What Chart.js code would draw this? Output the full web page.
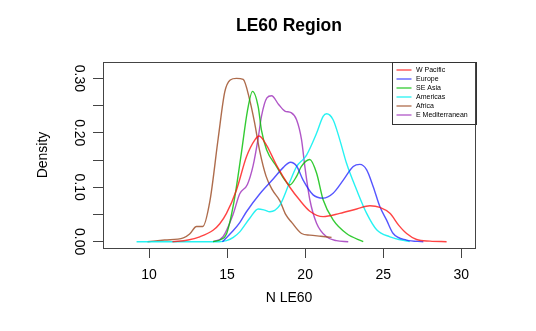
<!DOCTYPE html>
<html><head><meta charset="utf-8">
<script src="https://cdn.jsdelivr.net/npm/chart.js@4/dist/chart.umd.min.js"></script>
<style>html,body{margin:0;padding:0;background:#fff;}canvas{display:block;}</style>
</head><body>
<canvas id="c" width="536" height="331"></canvas>
<script>
// ---- data ----
const chartTitle = 'LE60 Region';
const xTitle = 'N LE60';
const yTitle = 'Density';
const seriesNames = ['W Pacific', 'Europe', 'SE Asia', 'Americas', 'Africa', 'E Mediterranean'];
const seriesColors = ['rgba(255,20,20,0.8)', 'rgba(20,20,255,0.72)', 'rgba(0,190,0,0.8)', 'rgba(0,240,240,0.85)', 'rgba(160,82,45,0.85)', 'rgba(150,30,180,0.75)'];

const wPacificX = [11.5, 12.5, 13.25, 14.1, 14.53, 14.96, 15.6, 16.24, 16.78, 17.05, 17.53, 18.17, 19.02, 19.66, 20.3, 21.15, 22.22, 23.3, 24.15, 24.79, 25.43, 26.0, 26.5, 27.14, 28.0, 29.06];
const wPacificY = [0.0, 0.003, 0.009, 0.021, 0.033, 0.052, 0.095, 0.156, 0.187, 0.194, 0.177, 0.14, 0.1, 0.076, 0.056, 0.046, 0.052, 0.06, 0.066, 0.063, 0.052, 0.03, 0.015, 0.004, 0.001, 0.0];

const europeX = [14.7, 15.38, 15.81, 16.24, 17.1, 17.95, 18.59, 19.06, 19.45, 19.87, 20.51, 21.15, 21.79, 22.44, 23.08, 23.5, 23.94, 24.36, 24.79, 25.21, 25.64, 26.5, 27.57];
const europeY = [0.0, 0.02, 0.035, 0.055, 0.088, 0.115, 0.136, 0.146, 0.139, 0.113, 0.086, 0.08, 0.089, 0.113, 0.138, 0.142, 0.132, 0.101, 0.064, 0.04, 0.015, 0.003, 0.0];

const seAsiaX = [14.1, 14.6, 14.96, 15.45, 15.9, 16.3, 16.63, 16.99, 17.2, 17.53, 18.17, 18.7, 19.0, 19.45, 19.75, 20.3, 20.73, 21.15, 21.79, 22.65, 23.72];
const seAsiaY = [0.0, 0.004, 0.014, 0.075, 0.16, 0.24, 0.276, 0.248, 0.205, 0.169, 0.138, 0.113, 0.104, 0.12, 0.138, 0.151, 0.126, 0.077, 0.04, 0.015, 0.0];

const americasX = [9.2, 14.5, 14.96, 15.4, 15.81, 16.45, 16.99, 17.4, 17.74, 18.38, 19.02, 19.45, 19.9, 20.09, 20.73, 21.15, 21.37, 21.79, 22.22, 22.65, 23.3, 23.94, 24.58, 25.43, 26.7];
const americasY = [0.0, 0.0, 0.002, 0.008, 0.018, 0.043, 0.06, 0.058, 0.055, 0.067, 0.11, 0.138, 0.152, 0.159, 0.199, 0.23, 0.235, 0.224, 0.187, 0.144, 0.095, 0.052, 0.022, 0.009, 0.0];

const africaX = [9.9, 11.0, 12.2, 12.6, 13.04, 13.44, 13.9, 14.43, 14.85, 15.2, 15.6, 16.03, 16.45, 16.75, 17.1, 17.5, 17.9, 18.38, 18.75, 19.15, 19.77, 20.3, 21.0, 21.69];
const africaY = [0.0, 0.003, 0.007, 0.014, 0.028, 0.028, 0.075, 0.19, 0.275, 0.297, 0.3, 0.298, 0.26, 0.22, 0.165, 0.12, 0.095, 0.075, 0.05, 0.035, 0.015, 0.012, 0.01, 0.008];

const eMedX = [14.1, 14.74, 15.38, 15.81, 16.3, 16.67, 16.99, 17.2, 17.55, 17.85, 18.3, 18.7, 19.1, 19.45, 19.77, 19.98, 20.3, 20.73, 21.37, 22.0, 22.76];
const eMedY = [0.0, 0.009, 0.05, 0.088, 0.105, 0.14, 0.19, 0.23, 0.264, 0.268, 0.252, 0.24, 0.237, 0.224, 0.187, 0.138, 0.077, 0.034, 0.009, 0.002, 0.0];

const xTickValues = [10, 15, 20, 25, 30];
const xTickLabels = ['10', '15', '20', '25', '30'];
const yTickValues = [0, 0.05, 0.10, 0.15, 0.20, 0.25, 0.30];
const yTickLabels = ['0.00', '', '0.10', '', '0.20', '', '0.30'];

// ---- build datasets ----
const seriesX = [wPacificX, europeX, seAsiaX, americasX, africaX, eMedX];
const seriesY = [wPacificY, europeY, seAsiaY, americasY, africaY, eMedY];
const datasets = seriesNames.map((name, i) => ({
  label: name,
  data: seriesX[i].map((x, j) => ({x: x, y: seriesY[i][j]})),
  borderColor: seriesColors[i],
  backgroundColor: seriesColors[i],
  borderWidth: 1.4,
  pointRadius: 0,
  fill: false,
  cubicInterpolationMode: 'monotone'
}));

const FONT = "'Liberation Sans', Arial, Helvetica, sans-serif";

const decor = {
  id: 'decor',
  afterDraw(chart) {
    const ctx = chart.ctx;
    const a = chart.chartArea;
    ctx.save();
    // plot frame
    ctx.strokeStyle = '#444';
    ctx.lineWidth = 1;
    ctx.strokeRect(Math.round(a.left) + 0.5, Math.round(a.top) + 0.5, Math.round(a.right - a.left), Math.round(a.bottom - a.top));
    // title
    ctx.fillStyle = '#000';
    ctx.textAlign = 'center';
    ctx.textBaseline = 'middle';
    ctx.font = "bold 17.5px " + FONT;
    const cx = (a.left + a.right) / 2;
    ctx.fillText(chartTitle, cx, 26);
    // x title
    ctx.font = "14px " + FONT;
    ctx.fillText(xTitle, cx, 298);
    // y title
    ctx.save();
    ctx.translate(43, (a.top + a.bottom) / 2);
    ctx.rotate(-Math.PI / 2);
    ctx.fillText(yTitle, 0, 0);
    ctx.restore();
    // legend
    const lw = 83.5, lh = 61.5;
    const lx = a.right - lw, ly = a.top;
    ctx.strokeStyle = '#333';
    ctx.lineWidth = 1;
    ctx.strokeRect(Math.round(lx) + 0.5, Math.round(ly) + 0.5, Math.round(lw), Math.round(lh));
    ctx.font = "7px " + FONT;
    ctx.textAlign = 'left';
    chart.data.datasets.forEach((ds, i) => {
      const y = ly + 8 + i * 9;
      ctx.strokeStyle = ds.borderColor;
      ctx.lineWidth = 1.3;
      ctx.beginPath();
      ctx.moveTo(lx + 5, y);
      ctx.lineTo(lx + 20, y);
      ctx.stroke();
      ctx.fillStyle = '#000';
      ctx.fillText(ds.label, lx + 24.5, y + 0.5);
    });
    ctx.restore();
  }
};

new Chart(document.getElementById('c'), {
  type: 'line',
  data: { datasets: datasets },
  options: {
    responsive: false,
    animation: false,
    devicePixelRatio: 1,
    layout: { padding: { top: 62, right: 61, left: 0, bottom: 0 } },
    plugins: { legend: { display: false }, title: { display: false }, tooltip: { enabled: false } },
    elements: { line: { tension: 0.4 } },
    scales: {
      x: {
        type: 'linear',
        min: 7.05, max: 30.88,
        afterBuildTicks: s => { s.ticks = xTickValues.map(v => ({value: v})); },
        afterFit: s => { s.height = 83; },
        ticks: {
          autoSkip: false, maxRotation: 0, minRotation: 0,
          padding: 9, color: '#000',
          font: { family: FONT, size: 14 },
          callback: (v, i) => xTickLabels[i]
        },
        grid: { drawOnChartArea: false, drawTicks: true, tickLength: 10, tickColor: '#444', tickWidth: 1 },
        border: { display: false }
      },
      y: {
        type: 'linear',
        min: -0.0116, max: 0.330,
        afterBuildTicks: s => { s.ticks = yTickValues.map(v => ({value: v})); },
        afterFit: s => { s.width = 103; },
        ticks: {
          autoSkip: false, minRotation: -90, maxRotation: -90,
          crossAlign: 'center',
          padding: 1, color: '#000',
          font: { family: FONT, size: 14 },
          callback: (v, i) => yTickLabels[i]
        },
        grid: { drawOnChartArea: false, drawTicks: true, tickLength: 10, tickColor: '#444', tickWidth: 1 },
        border: { display: false }
      }
    }
  },
  plugins: [decor]
});
</script>
</body></html>
